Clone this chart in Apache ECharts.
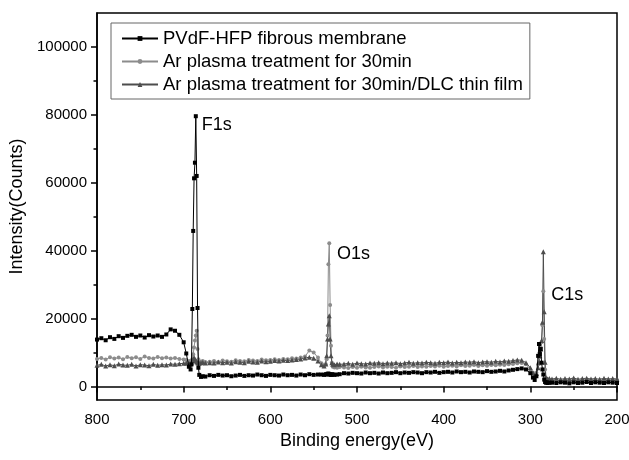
<!DOCTYPE html>
<html>
<head>
<meta charset="utf-8">
<script src="https://cdn.jsdelivr.net/npm/echarts@6/dist/echarts.min.js"></script>
<style>
  html, body { margin: 0; padding: 0; background: #fff; }
  #chart { width: 629px; height: 460px; }
</style>
</head>
<body>
<div id="chart"></div>
<script>
// binding energy (eV), shared by the three spectra
var energies = [
    800, 795, 790, 785, 780, 775, 770, 765, 760, 755, 750, 745, 740, 735, 730, 725, 720, 715, 710, 705, 700,
    697, 694, 692, 691, 690, 689, 688, 687, 686, 685, 684, 683, 682, 680, 678, 675,
    670, 665, 660, 655, 650, 645, 640, 635, 630, 625, 620, 615, 610, 605, 600, 595, 590, 585, 580, 575, 570, 565, 560, 555, 550, 545,
    541, 538, 536, 535, 534, 533, 532, 531, 530, 529, 528, 526, 523, 520,
    515, 510, 505, 500, 495, 490, 485, 480, 475, 470, 465, 460, 455, 450, 445, 440, 435, 430, 425, 420,
    415, 410, 405, 400, 395, 390, 385, 380, 375, 370, 365, 360, 355, 350, 345, 340, 335, 330, 325, 320,
    315, 310, 305, 300,
    297, 295, 293, 291, 290, 289, 288, 287, 286, 285, 284, 283, 282, 281, 280, 278,
    275, 270, 265, 260, 255, 250, 245, 240, 235, 230, 225, 220, 215, 210, 205, 200
];

// PVdF-HFP fibrous membrane
var pvdf = [
    13800, 14200, 13600, 14500, 14000, 14800, 14300, 14900, 15200, 14600, 15000, 14400, 15100, 14700, 15000, 14600, 15300, 16800, 16400, 15200, 13000,
    9700, 5800, 5000, 6500, 22800, 45800, 61300, 65900, 79600, 62000, 23100, 5500, 3400, 2800, 3000, 2900,
    3300, 3100, 3400, 3200, 3300, 3000, 3200, 3400, 3100, 3300, 3200, 3500, 3300, 3100, 3400, 3300, 3200, 3500, 3300, 3400, 3200, 3500, 3300, 3600, 3400, 3500,
    3500, 3400, 3600, 3500, 3700, 3800, 3600, 3500, 3400, 3500, 3600, 3400, 3500, 3600,
    3900, 3800, 4000, 3900, 3800, 4100, 3900, 4000, 3800, 4100, 3900, 4000, 4200, 3900, 4100, 4000, 4200, 4100, 3900, 4200,
    4100, 4300, 4000, 4200, 4300, 4100, 4400, 4200, 4300, 4100, 4400, 4300, 4200, 4500, 4300, 4400, 4600, 4400, 4700, 4900,
    5100, 5300, 5000, 3900,
    2600, 1900, 3000, 9000, 12500, 9500, 11000, 7000, 5000, 3500, 2000, 1300, 1100, 1200, 1000, 1100,
    1100, 1000, 1200, 1100, 900, 1200, 1000, 1100, 1300, 1000, 1200, 1100, 1000, 1200, 1100, 1000
];

// Ar plasma treatment for 30min
var plasma = [
    8100, 8400, 7900, 8600, 8200, 8500, 8000, 8700, 8300, 8600, 8100, 8800, 8400, 8200, 8700, 8300, 8500, 8200, 8400, 8100, 7900,
    7800, 7500, 7400, 7600, 8000, 9500, 11500, 13500, 15000, 16400, 11000, 8000, 7200, 7300, 7500, 7200,
    7300, 7500, 7200, 7600, 7400, 7300, 7700, 7500, 7400, 7800, 7600, 7500, 7900, 7700, 7800, 8000, 7800, 8100, 8000, 8300, 8200, 8500, 8800, 10600, 10000, 8500,
    6800, 6200, 6500, 8000, 15000, 36000, 42200, 24000, 12000, 7000, 5800, 5600, 5500, 5700,
    5600, 5400, 5700, 5500, 5800, 5600, 5500, 5700, 5900, 5600, 5800, 5700, 5500, 5900, 5700, 5800, 6000, 5700, 5900, 5800,
    6000, 5900, 6100, 5800, 6000, 6100, 5900, 6200, 6000, 6100, 6300, 6000, 6200, 6100, 6300, 6200, 6400, 6300, 6500, 6600,
    6800, 6900, 6500, 5000,
    4000, 3200, 4000, 6500, 8500, 10000, 11500, 13000, 18000, 28000, 14000, 5000, 2200, 1900, 1800, 1900,
    1800, 1900, 1700, 2000, 1800, 1900, 1700, 1800, 2000, 1900, 1700, 1800, 1900, 2000, 1800, 1900
];

// Ar plasma treatment for 30min/DLC thin film
var dlc = [
    6200, 6500, 6000, 6400, 6100, 6600, 6300, 6200, 6500, 6000, 6400, 6300, 6100, 6500, 6200, 6400, 6300, 6600, 6500, 6700, 6800,
    6900, 6800, 6600, 7000, 7500, 8000, 8500, 8000, 7600, 7300, 7000, 6900, 6800, 7000, 7100, 6900,
    7000, 6900, 7200, 7000, 7100, 6900, 7300, 7100, 7000, 7400, 7200, 7100, 7500, 7300, 7400, 7600, 7500, 7700, 7600, 7800, 7900, 8100, 8400, 8600, 8300, 7500,
    6400, 6000, 6600, 9000, 14000, 18400, 20800, 14000, 9000, 7000, 6500, 6400, 6600, 6500,
    6600, 6800, 6500, 6900, 6700, 6600, 6900, 6800, 7000, 6700, 6900, 6800, 7000, 6700, 6900, 7100, 6800, 7000, 6900, 7100,
    7000, 6800, 7100, 7000, 7200, 6900, 7100, 7000, 7200, 7100, 7300, 7000, 7200, 7300, 7100, 7400, 7200, 7500, 7400, 7600,
    7800, 7700, 7000, 5500,
    4000, 3200, 3800, 5500, 7000, 9000, 11000, 13500, 18900, 39700, 22000, 7100, 2600, 2300, 2200, 2300,
    2200, 2400, 2100, 2300, 2200, 2500, 2100, 2300, 2400, 2200, 2300, 2100, 2400, 2200, 2300, 2200
];

var seriesNames = [
    'PVdF-HFP fibrous membrane',
    'Ar plasma treatment for 30min',
    'Ar plasma treatment for 30min/DLC thin film'
];
var yLabelTicks = [0, 20000, 40000, 60000, 80000, 100000];
var yMinorTicks = [10000, 30000, 50000, 70000, 90000];

var FONT = '"Liberation Sans", Arial, sans-serif';

function pairs(values) {
    var out = [];
    for (var i = 0; i < energies.length; i++) {
        out.push([energies[i], values[i]]);
    }
    return out;
}

function peakLabel(name, coord) {
    return {
        symbolSize: 0,
        silent: true,
        label: {
            show: true, position: 'right', distance: 0,
            color: '#000', fontSize: 18, fontFamily: FONT,
            formatter: name
        },
        data: [{ coord: coord }]
    };
}

var myChart = echarts.init(document.getElementById('chart'));
var option = {
    animation: false,
    backgroundColor: '#fff',
    grid: {
        left: 97, right: 12, top: 13, bottom: 60,
        outerBoundsMode: 'none',
        show: true, borderColor: '#000', borderWidth: 1.5, backgroundColor: 'transparent'
    },
    legend: {
        orient: 'vertical',
        left: 111, top: 23,
        padding: [6, 7, 5, 10],
        itemWidth: 36, itemHeight: 6, itemGap: 4,
        borderColor: '#666', borderWidth: 1,
        textStyle: { color: '#000', fontSize: 18.5, fontFamily: FONT },
        data: seriesNames
    },
    xAxis: {
        type: 'value', inverse: true,
        min: 200, max: 800, interval: 100,
        name: 'Binding energy(eV)', nameLocation: 'middle', nameGap: 30,
        nameTextStyle: { color: '#000', fontSize: 18, fontFamily: FONT },
        axisLine: { lineStyle: { color: '#000', width: 1.5 } },
        axisTick: { length: 6, lineStyle: { color: '#000', width: 1.5 } },
        minorTick: { show: true, splitNumber: 2, length: 3.5, lineStyle: { color: '#000', width: 1.5 } },
        axisLabel: { color: '#000', fontSize: 15, fontFamily: FONT, margin: 12 },
        splitLine: { show: false }
    },
    yAxis: [{
        type: 'value',
        min: -4000, max: 110000,
        name: 'Intensity(Counts)', nameLocation: 'middle', nameGap: 66,
        nameTextStyle: { color: '#000', fontSize: 18, fontFamily: FONT },
        axisLine: { lineStyle: { color: '#000', width: 1.5 } },
        axisTick: { length: 6, customValues: yLabelTicks, lineStyle: { color: '#000', width: 1.5 } },
        axisLabel: {
            color: '#000', fontSize: 15, fontFamily: FONT, margin: 10, customValues: yLabelTicks,
            formatter: function (v) { return String(v); }
        },
        splitLine: { show: false }
    }, {
        type: 'value', position: 'left',
        min: -4000, max: 110000,
        axisLine: { show: false },
        axisTick: { length: 3.5, customValues: yMinorTicks, lineStyle: { color: '#000', width: 1.5 } },
        axisLabel: { show: false },
        splitLine: { show: false }
    }],
    series: [{
        name: seriesNames[0], type: 'line', data: pairs(pvdf),
        symbol: 'rect', symbolSize: 4, showAllSymbol: true,
        color: '#000', lineStyle: { width: 1, color: '#000' },
        markPoint: peakLabel('F1s', [679, 77000]),
        z: 3
    }, {
        name: seriesNames[1], type: 'line', data: pairs(plasma),
        symbol: 'circle', symbolSize: 4, showAllSymbol: true,
        color: '#8c8c8c', lineStyle: { width: 1, color: '#8c8c8c' },
        markPoint: peakLabel('O1s', [523, 39000]),
        z: 2
    }, {
        name: seriesNames[2], type: 'line', data: pairs(dlc),
        symbol: 'triangle', symbolSize: 5, showAllSymbol: true,
        color: '#4d4d4d', lineStyle: { width: 1, color: '#4d4d4d' },
        markPoint: peakLabel('C1s', [276, 27000]),
        z: 2
    }]
};
myChart.setOption(option);
</script>
</body>
</html>
